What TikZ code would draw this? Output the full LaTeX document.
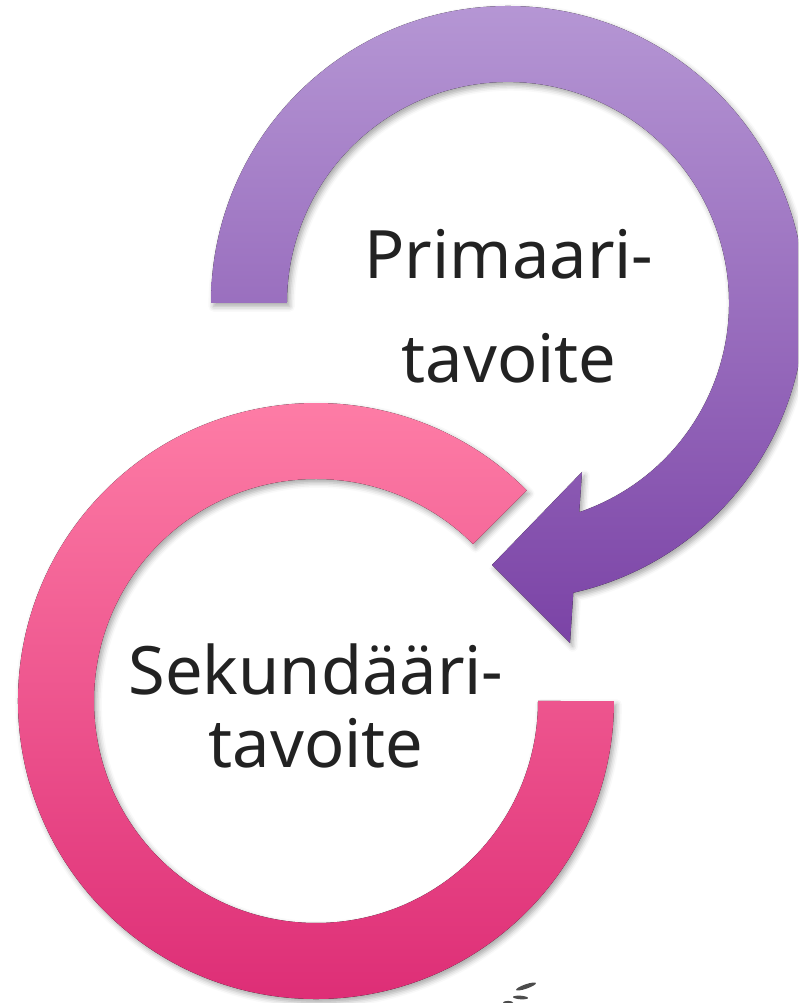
\documentclass[tikz,border=0pt]{standalone}
\usepackage{fontspec}
\setmainfont{Noto Sans}
\usepackage{xcolor}
\usetikzlibrary{shadows.blur}

\definecolor{lilatop}{HTML}{B596D4}
\definecolor{lilabot}{HTML}{7B43A6}
\definecolor{pinktop}{HTML}{FF80A8}
\definecolor{pinkbot}{HTML}{DC2A74}
\definecolor{textgray}{HTML}{222222}

\begin{document}
\begin{tikzpicture}[x=0.02cm,y=0.02cm,
  ringshadow/.style={blur shadow={shadow xshift=1.5pt,shadow yshift=-2pt,shadow blur radius=3pt,shadow opacity=35}},
  goaltext/.style={text=textgray,inner sep=0pt,anchor=base,font=\fontsize{38}{46}\selectfont}]
\clip (0,0) rectangle (798,1003);

% primary ring, ends in the arrow head
\fill[top color=lilatop,bottom color=lilabot,ringshadow]
  (211,700) arc[start angle=180,end angle=-77.3,radius=297]
  -- (570,360) -- (492,438) -- (582,531) -- (579.2,490.8)
  arc[start angle=-71.2,end angle=180,radius=221] -- cycle;

% secondary ring
\fill[top color=pinktop,bottom color=pinkbot,ringshadow]
  (526.7,512.7) arc[start angle=45,end angle=360,radius=298]
  -- (538,302) arc[start angle=360,end angle=45,radius=222] -- cycle;

\node[goaltext] (primtop) at (509,724) {Primaari-};
\node[goaltext] (primbottom) at (509,620) {tavoite};

\node[goaltext] (sektop) at (316,308) {Sekundääri-};
\node[goaltext] (sekbottom) at (316,235) {tavoite};

% small leaves at the bottom edge
\fill[gray!60!black,rotate around={19:(526,16.5)}] (526,16.5) ellipse[x radius=10.5,y radius=2.2];
\fill[gray!60!black,rotate around={-4:(520.5,5.5)}] (520.5,5.5) ellipse[x radius=7.5,y radius=1.8];
\fill[gray!60!black] (508,0.5) ellipse[x radius=5,y radius=1.6];
\end{tikzpicture}
\end{document}
